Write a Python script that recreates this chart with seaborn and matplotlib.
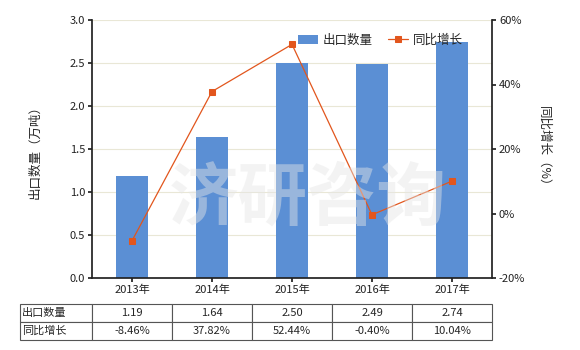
import matplotlib
matplotlib.use("Agg")
import matplotlib.pyplot as plt
import seaborn as sns
import pandas as pd
import numpy as np

years = ["2013年", "2014年", "2015年", "2016年", "2017年"]
export_qty = [1.19, 1.64, 2.50, 2.49, 2.74]
growth = [-8.46, 37.82, 52.44, -0.40, 10.04]
qty_labels = ["1.19", "1.64", "2.50", "2.49", "2.74"]
growth_labels = ["-8.46%", "37.82%", "52.44%", "-0.40%", "10.04%"]
left_ticks = [0.0, 0.5, 1.0, 1.5, 2.0, 2.5, 3.0]
right_ticks = [-20, 0, 20, 40, 60]

sns.set_theme(style="white")
plt.rcParams['font.family'] = ['Noto Sans CJK SC', 'DejaVu Sans']

df = pd.DataFrame({"year": years, "qty": export_qty, "growth": growth})

fig = plt.figure(figsize=(5.8, 3.5), dpi=100)
ax = fig.add_axes([92/580, 1-278/350, 400/580, 258/350])

bar_color = "#5b8fd4"
line_color = "#e2561d"

sns.barplot(data=df, x="year", y="qty", color=bar_color, width=0.4, ax=ax,
            saturation=1, label="出口数量", zorder=2, linewidth=0)
if ax.get_legend() is not None:
    ax.get_legend().remove()
ax.set_ylim(0, 3.0)
ax.set_yticks(left_ticks)
ax.set_yticklabels([f"{t:.1f}" for t in left_ticks], fontsize=8)
ax.set_xlim(-0.5, 4.5)
ax.tick_params(axis='x', labelsize=8, length=3, pad=2)
ax.tick_params(axis='y', length=3, pad=2)
ax.set_xlabel("")
ax.set_ylabel("出口数量（万吨）", fontsize=9, labelpad=20)
for t in left_ticks[1:]:
    ax.axhline(t, color="#e9e7d6", lw=0.8, zorder=0)
for s in ["top", "right"]:
    ax.spines[s].set_visible(False)
ax.spines["left"].set_color("#222222")
ax.spines["bottom"].set_color("#222222")
ax.tick_params(axis='both', which='both', direction='out', colors="#222222", bottom=True, left=True)

ax2 = ax.twinx()
sns.lineplot(data=df, x="year", y="growth", ax=ax2, color=line_color, lw=0.9,
             marker="s", markersize=5, markeredgecolor=line_color, label="同比增长",
             sort=False, legend=False)
ax2.set_ylim(-20, 60)
ax2.set_yticks(right_ticks)
ax2.set_yticklabels([f"{t}%" for t in right_ticks], fontsize=8)
ax2.set_ylabel("同比增长（%）", fontsize=9, rotation=-90, labelpad=18)
ax2.set_xlabel("")
for s in ["top", "left", "bottom"]:
    ax2.spines[s].set_visible(False)
ax2.spines["right"].set_color("#222222")
ax2.tick_params(axis='y', right=True, length=3, pad=2, colors="#222222")

# watermark
fig.text(0.53, 0.43, "济研咨询", fontsize=50, color="#e6e6e6", alpha=0.45,
         ha="center", va="center", fontweight="bold", zorder=10)

# legend
h1, l1 = ax.get_legend_handles_labels()
h2, l2 = ax2.get_legend_handles_labels()
ax2.legend(h1 + h2, l1 + l2, loc="upper right", bbox_to_anchor=(0.955, 0.99),
           ncol=2, frameon=False, fontsize=9, handlelength=1.6, columnspacing=1.2,
           handletextpad=0.4)

# table
cell_text = [qty_labels, growth_labels]
row_labels = ["出口数量", "同比增长"]
full = [[row_labels[i]] + cell_text[i] for i in range(2)]
tbl = ax.table(cellText=full, cellLoc="center",
               bbox=[(20-92)/400, (278-340)/258, (492-20)/400, 36/258],
               colWidths=[72/472] + [80/472]*5)
tbl.auto_set_font_size(False)
tbl.set_fontsize(8)
for (r, c), cell in tbl.get_celld().items():
    cell.set_edgecolor("#555555")
    cell.set_linewidth(0.8)
    if c == 0:
        cell.set_text_props(ha="left")
        cell.PAD = 0.03

fig.savefig("out.png", dpi=100)
